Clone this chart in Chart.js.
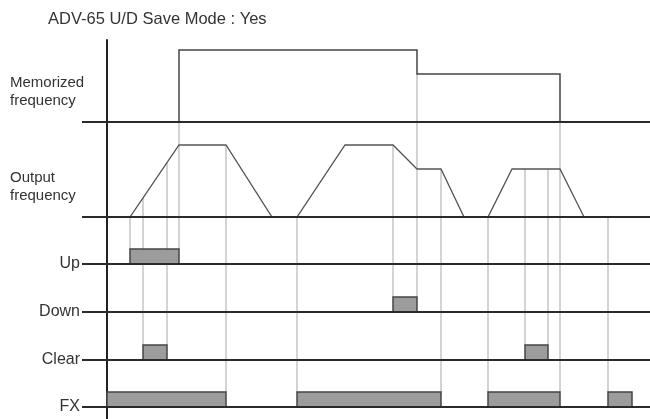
<!DOCTYPE html>
<html>
<head>
<meta charset="utf-8">
<script src="https://cdn.jsdelivr.net/npm/chart.js@4/dist/chart.umd.min.js"></script>
<style>
  html, body { margin: 0; padding: 0; background: #fff; }
  #wrap { width: 650px; height: 419px; }
</style>
</head>
<body>
<div id="wrap"><canvas id="c" width="650" height="419"></canvas></div>
<script>
// ---------------- DATA (time units, frequency in Hz, digital 0/1) ----------------
const titleText = "ADV-65 U/D Save Mode : Yes";
const laneNames = ["Memorized frequency", "Output frequency", "Up", "Down", "Clear", "FX"];

// Memorized frequency: step points
const memTimes = [0, 72, 72, 310, 310, 453, 453];
const memHz    = [0, 0, 60, 60, 40, 40, 0];

// Output frequency: trace points
const outTimes = [0, 23, 72, 119, 165, 190, 238, 286, 310, 334, 357, 381, 405, 453, 477];
const outHz    = [0, 0, 60, 60, 0, 0, 60, 60, 40, 40, 0, 0, 40, 40, 0];

// Digital inputs: [on, off] time pairs
const upPulses    = [[23, 72]];
const downPulses  = [[286, 310]];
const clearPulses = [[36, 60], [418, 441]];
const fxPulses    = [[0, 119], [190, 334], [381, 453], [501, 525]];

// Guide lines: time, from lane, to lane
const guideTimes = [23, 36, 60, 72, 119, 190, 286, 310, 334, 381, 418, 441, 453, 501];
const guideFrom  = ["out","out","out","mem","out","out","out","mem","out","out","out","out","mem","out"];
const guideTo    = ["up","clear","clear","up","fx","fx","down","down","fx","fx","clear","clear","fx","fx"];

// Time range
const tStart = -25, tEnd = 543;
const axisTopHz = 69;

// ---------------- LAYOUT ----------------
const H = 419;
function laneAxis(basePx, pxPerUnit) {
  const max = basePx / pxPerUnit;
  return { min: max - H / pxPerUnit, max: max, display: false, type: 'linear' };
}
const lanes = {
  mem:   laneAxis(122, 1.2),
  out:   laneAxis(217, 1.2),
  up:    laneAxis(264, 15),
  down:  laneAxis(312, 15),
  clear: laneAxis(360, 15),
  fx:    laneAxis(407, 15)
};

function zip(ts, vs) { return ts.map((t, i) => ({ x: t, y: vs[i] })); }
function pulsePoints(pulses) {
  const pts = [];
  pulses.forEach(([a, b]) => {
    pts.push({ x: a, y: 0 }, { x: a, y: 1 }, { x: b, y: 1 }, { x: b, y: 0 });
    pts.push({ x: NaN, y: NaN });
  });
  return pts;
}
function baseline(axis) {
  return {
    data: [{ x: tStart, y: 0 }, { x: tEnd, y: 0 }], yAxisID: axis,
    borderColor: '#2a2a2a', borderWidth: 2, pointRadius: 0, fill: false, order: 1
  };
}
function pulseSet(pulses, axis) {
  return {
    data: pulsePoints(pulses), yAxisID: axis, spanGaps: false,
    borderColor: '#444', borderWidth: 1.5, backgroundColor: '#9c9c9c',
    fill: { value: 0 }, pointRadius: 0, order: 2
  };
}

function valueAt(ts, vs, t) {
  for (let i = 0; i < ts.length - 1; i++) {
    if (t >= ts[i] && t <= ts[i + 1] && ts[i + 1] > ts[i]) {
      return vs[i] + (vs[i + 1] - vs[i]) * (t - ts[i]) / (ts[i + 1] - ts[i]);
    }
  }
  return vs[vs.length - 1];
}
function memLowAt(t) {
  let lo = Infinity;
  memTimes.forEach((mt, i) => { if (mt === t) lo = Math.min(lo, memHz[i]); });
  return lo === Infinity ? valueAt(memTimes, memHz, t) : lo;
}

const textPlugin = {
  id: 'diagramText',
  beforeDatasetsDraw(chart) {
    const ctx = chart.ctx, xs = chart.scales.x;
    ctx.save();
    ctx.strokeStyle = '#c4c4c4';
    ctx.lineWidth = 1.5;
    guideTimes.forEach((t, i) => {
      const x = xs.getPixelForValue(t);
      const topV = guideFrom[i] === 'mem' ? memLowAt(t) : valueAt(outTimes, outHz, t);
      const y1 = chart.scales[guideFrom[i]].getPixelForValue(topV);
      const y2 = chart.scales[guideTo[i]].getPixelForValue(1);
      ctx.beginPath(); ctx.moveTo(x, y1); ctx.lineTo(x, y2); ctx.stroke();
    });
    ctx.strokeStyle = '#222';
    ctx.lineWidth = 2;
    const x0 = xs.getPixelForValue(0);
    ctx.beginPath();
    ctx.moveTo(x0, chart.scales.mem.getPixelForValue(axisTopHz));
    ctx.lineTo(x0, chart.height);
    ctx.stroke();
    ctx.restore();
  },
  afterDraw(chart) {
    const ctx = chart.ctx, xs = chart.scales.x;
    ctx.save();
    ctx.fillStyle = '#333';
    ctx.textBaseline = 'middle';
    ctx.textAlign = 'left';
    ctx.font = '16.5px "Liberation Sans", Arial, sans-serif';
    ctx.fillText(titleText, 48, 19);
    const memY = chart.scales.mem.getPixelForValue(30);
    const outY = chart.scales.out.getPixelForValue(30);
    ctx.font = '15px "Liberation Sans", Arial, sans-serif';
    ctx.fillText(laneNames[0].split(' ')[0], 10, memY - 3);
    ctx.fillText(laneNames[0].split(' ')[1], 10, memY + 15);
    ctx.fillText(laneNames[1].split(' ')[0], 10, outY - 3);
    ctx.fillText(laneNames[1].split(' ')[1], 10, outY + 15);
    ctx.textAlign = 'right';
    ctx.font = '16px "Liberation Sans", Arial, sans-serif';
    ['up', 'down', 'clear', 'fx'].forEach((id, k) => {
      const y = chart.scales[id].getPixelForValue(0);
      ctx.fillText(laneNames[k + 2], xs.getPixelForValue(tStart) - 2, y);
    });
    ctx.restore();
  }
};

new Chart(document.getElementById('c'), {
  type: 'line',
  data: {
    datasets: [
      baseline('mem'), baseline('out'), baseline('up'), baseline('down'), baseline('clear'), baseline('fx'),
      { data: zip(memTimes, memHz), yAxisID: 'mem', borderColor: '#444', borderWidth: 1.5, pointRadius: 0, fill: false, order: 2 },
      { data: zip(outTimes, outHz), yAxisID: 'out', borderColor: '#555', borderWidth: 1.3, pointRadius: 0, fill: false, order: 2 },
      pulseSet(upPulses, 'up'),
      pulseSet(downPulses, 'down'),
      pulseSet(clearPulses, 'clear'),
      pulseSet(fxPulses, 'fx')
    ]
  },
  options: {
    responsive: false,
    animation: false,
    layout: { padding: 0 },
    plugins: { legend: { display: false }, title: { display: false }, tooltip: { enabled: false } },
    elements: { line: { tension: 0 } },
    scales: {
      x: { type: 'linear', min: -107, max: 543, display: false },
      mem: lanes.mem, out: lanes.out, up: lanes.up, down: lanes.down, clear: lanes.clear, fx: lanes.fx
    }
  },
  plugins: [textPlugin]
});
</script>
</body>
</html>
